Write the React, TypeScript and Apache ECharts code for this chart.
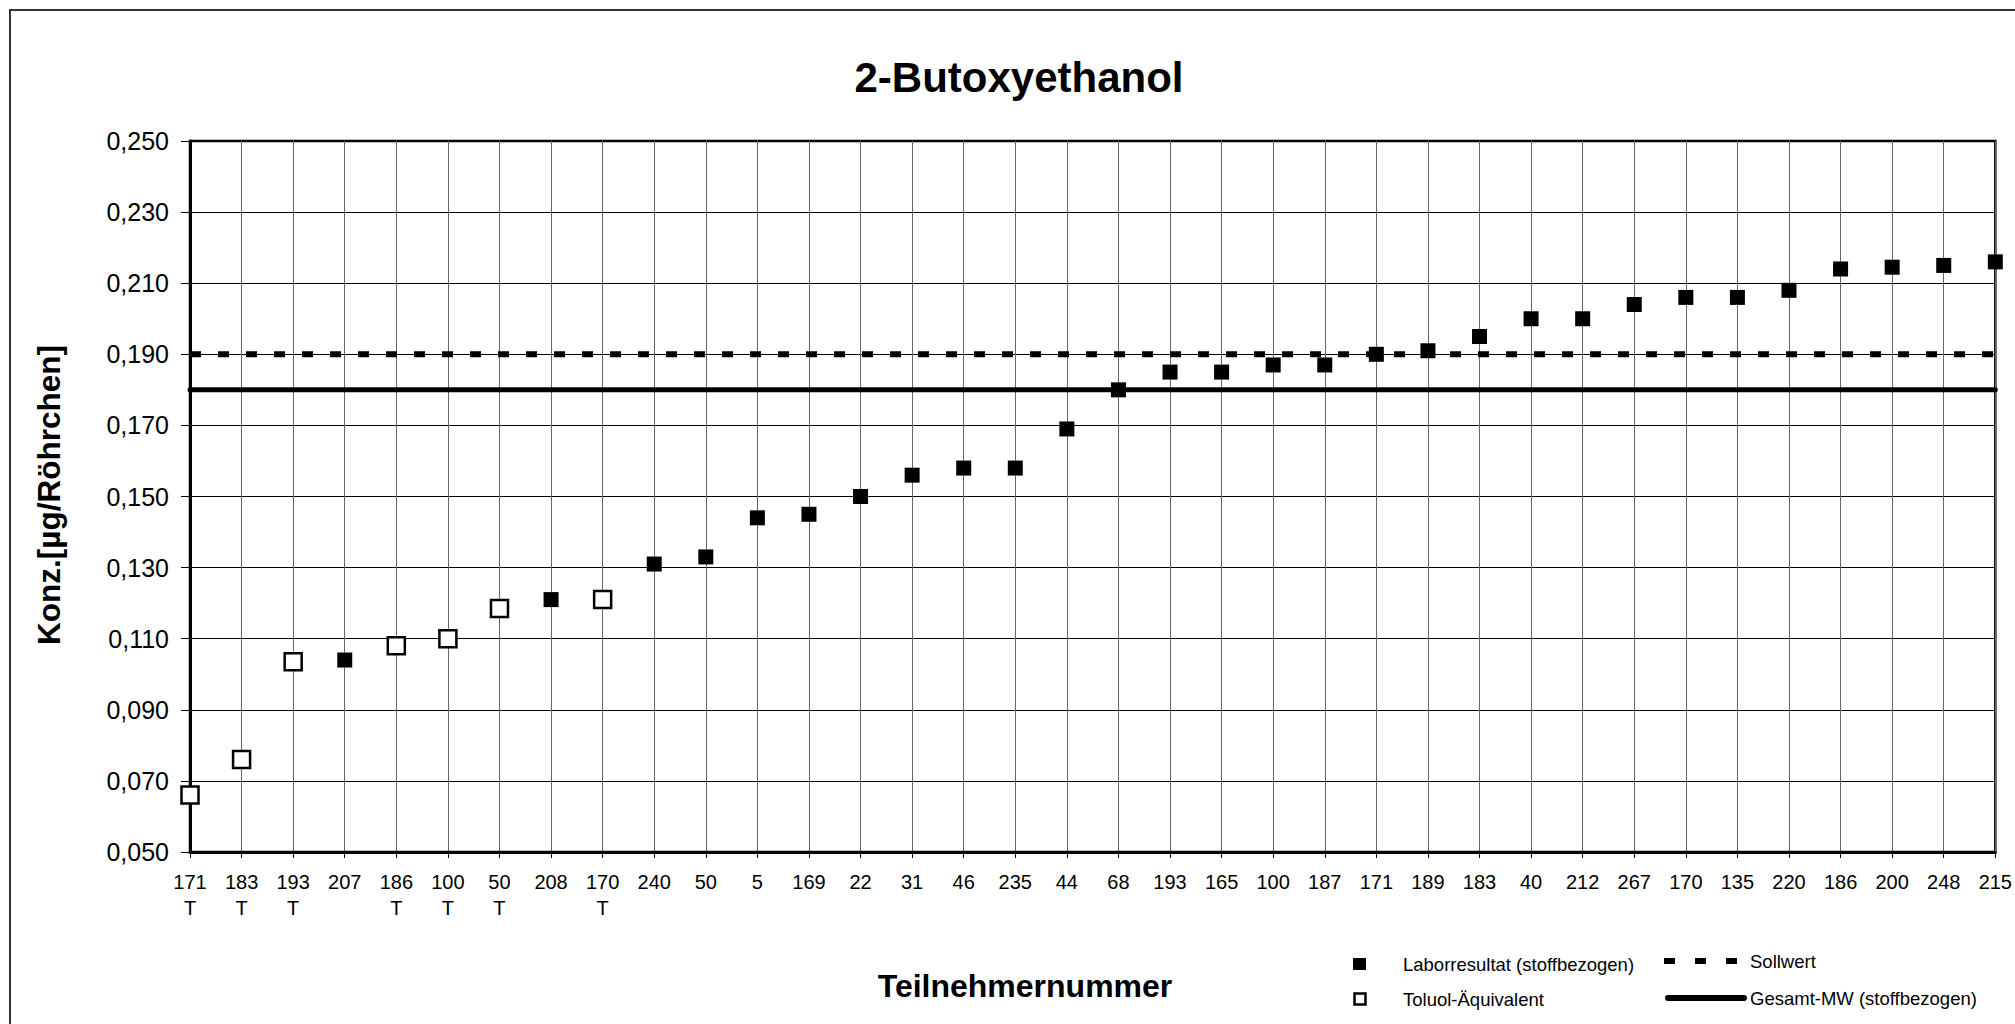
import React, { useEffect, useRef } from "react";
import * as echarts from "echarts";

const PARTICIPANTS = [
  "171", "183", "193", "207", "186", "100", "50", "208", "170", "240", "50", "5",
  "169", "22", "31", "46", "235", "44", "68", "193", "165", "100", "187", "171",
  "189", "183", "40", "212", "267", "170", "135", "220", "186", "200", "248", "215",
];
const TOLUOL_FLAG = [
  1, 1, 1, 0, 1, 1, 1, 0, 1, 0, 0, 0,
  0, 0, 0, 0, 0, 0, 0, 0, 0, 0, 0, 0,
  0, 0, 0, 0, 0, 0, 0, 0, 0, 0, 0, 0,
];
const LAB_RESULTS = [
  null, null, null, 0.104, null, null, null, 0.121, null, 0.131, 0.133, 0.144,
  0.145, 0.15, 0.156, 0.158, 0.158, 0.169, 0.18, 0.185, 0.185, 0.187, 0.187, 0.19,
  0.191, 0.195, 0.2, 0.2, 0.204, 0.206, 0.206, 0.208, 0.214, 0.2145, 0.215, 0.216,
];
const TOLUOL_EQUIV = [
  0.066, 0.076, 0.1035, null, 0.108, 0.11, 0.1185, null, 0.121, null, null, null,
  null, null, null, null, null, null, null, null, null, null, null, null,
  null, null, null, null, null, null, null, null, null, null, null, null,
];
const SOLLWERT = 0.19;
const GESAMT_MW = 0.18;
const Y_MIN = 0.05;
const Y_MAX = 0.25;
const Y_STEP = 0.02;

const TITLE = "2-Butoxyethanol";
const Y_TITLE = "Konz.[µg/Röhrchen]";
const X_TITLE = "Teilnehmernummer";
const LEGEND_NAMES = [
  "Laborresultat (stoffbezogen)",
  "Toluol-Äquivalent",
  "Sollwert",
  "Gesamt-MW (stoffbezogen)",
];

const FONT = "Liberation Sans, Arial, Helvetica, sans-serif";

export default function App() {
  const ref = useRef<HTMLDivElement>(null);

  useEffect(() => {
    if (!ref.current) return;
    const chart = echarts.init(ref.current, null, { renderer: "svg" });
    const categories = PARTICIPANTS.map((p, i) => (TOLUOL_FLAG[i] ? p + "\nT" : p));

    chart.setOption({
      animation: false,
      backgroundColor: "#ffffff",
      textStyle: { fontFamily: FONT, color: "#000" },
      grid: {
        left: 190,
        right: 19,
        top: 141,
        bottom: 172,
        show: true,
        borderColor: "#000",
        borderWidth: 2.5,
        containLabel: false,
      },
      xAxis: {
        type: "category",
        data: categories,
        boundaryGap: false,
        axisLine: { show: true, onZero: false, lineStyle: { color: "#000", width: 3 } },
        axisTick: { show: true, interval: 0, length: 6, lineStyle: { color: "#000", width: 1 } },
        axisLabel: {
          interval: 0,
          margin: 17,
          fontSize: 20,
          lineHeight: 26,
          color: "#000",
          fontFamily: FONT,
        },
        splitLine: { show: true, interval: 0, lineStyle: { color: "#666", width: 1 } },
      },
      yAxis: {
        type: "value",
        min: Y_MIN,
        max: Y_MAX,
        interval: Y_STEP,
        axisLine: { show: true, lineStyle: { color: "#000", width: 3 } },
        axisTick: { show: true, length: 9, lineStyle: { color: "#000", width: 1 } },
        axisLabel: {
          margin: 21,
          fontSize: 25,
          color: "#000",
          fontFamily: FONT,
          formatter: (v: number) => v.toFixed(3).replace(".", ","),
        },
        splitLine: { show: true, lineStyle: { color: "#000", width: 1 } },
      },
      series: [
        {
          name: LEGEND_NAMES[2],
          type: "line",
          data: categories.map(() => SOLLWERT),
          symbol: "none",
          z: 2,
          lineStyle: { color: "#000", width: 6, type: [11, 17] },
        },
        {
          name: LEGEND_NAMES[3],
          type: "line",
          data: categories.map(() => GESAMT_MW),
          symbol: "none",
          z: 2,
          lineStyle: { color: "#000", width: 5, cap: "round" },
        },
        {
          name: LEGEND_NAMES[0],
          type: "scatter",
          data: LAB_RESULTS,
          symbol: "rect",
          symbolSize: 15,
          z: 4,
          itemStyle: { color: "#000", opacity: 1 },
        },
        {
          name: LEGEND_NAMES[1],
          type: "scatter",
          data: TOLUOL_EQUIV,
          symbol: "rect",
          symbolSize: 17,
          z: 4,
          itemStyle: { color: "#fff", borderColor: "#000", borderWidth: 2.5, opacity: 1 },
        },
      ],
      graphic: [
        {
          type: "rect",
          z: -10,
          silent: true,
          shape: { x: 10, y: 10, width: 2100, height: 1100 },
          style: { fill: "none", stroke: "#333", lineWidth: 2 },
        },
        {
          type: "text",
          x: 1019,
          y: 77,
          style: {
            text: TITLE,
            fontSize: 42,
            fontWeight: "bold",
            fontFamily: FONT,
            fill: "#000",
            align: "center",
            verticalAlign: "middle",
          },
        },
        {
          type: "text",
          x: 49,
          y: 495,
          rotation: Math.PI / 2,
          style: {
            text: Y_TITLE,
            fontSize: 31.5,
            fontWeight: "bold",
            fontFamily: FONT,
            fill: "#000",
            align: "center",
            verticalAlign: "middle",
          },
        },
        {
          type: "text",
          x: 1025,
          y: 986,
          style: {
            text: X_TITLE,
            fontSize: 32,
            fontWeight: "bold",
            fontFamily: FONT,
            fill: "#000",
            align: "center",
            verticalAlign: "middle",
          },
        },
        // legend
        {
          type: "rect",
          shape: { x: 1353, y: 958, width: 13, height: 12 },
          style: { fill: "#000" },
        },
        {
          type: "rect",
          shape: { x: 1354.5, y: 993.5, width: 11, height: 11 },
          style: { fill: "#fff", stroke: "#000", lineWidth: 2.5 },
        },
        {
          type: "text",
          x: 1403,
          y: 964,
          style: { text: LEGEND_NAMES[0], fontSize: 18.5, fontFamily: FONT, fill: "#000", verticalAlign: "middle" },
        },
        {
          type: "text",
          x: 1403,
          y: 999,
          style: { text: LEGEND_NAMES[1], fontSize: 18.5, fontFamily: FONT, fill: "#000", verticalAlign: "middle" },
        },
        {
          type: "line",
          shape: { x1: 1664, y1: 961, x2: 1737, y2: 961 },
          style: { stroke: "#000", lineWidth: 6, lineDash: [11, 20] },
        },
        {
          type: "line",
          shape: { x1: 1668, y1: 998, x2: 1744, y2: 998 },
          style: { stroke: "#000", lineWidth: 6, lineCap: "round" },
        },
        {
          type: "text",
          x: 1750,
          y: 961,
          style: { text: LEGEND_NAMES[2], fontSize: 18.5, fontFamily: FONT, fill: "#000", verticalAlign: "middle" },
        },
        {
          type: "text",
          x: 1750,
          y: 998,
          style: { text: LEGEND_NAMES[3], fontSize: 18.5, fontFamily: FONT, fill: "#000", verticalAlign: "middle" },
        },
      ],
    });

    return () => chart.dispose();
  }, []);

  return (
    <div
      ref={ref}
      style={{ position: "fixed", left: 0, top: 0, width: 2015, height: 1024, background: "#fff" }}
    />
  );
}
